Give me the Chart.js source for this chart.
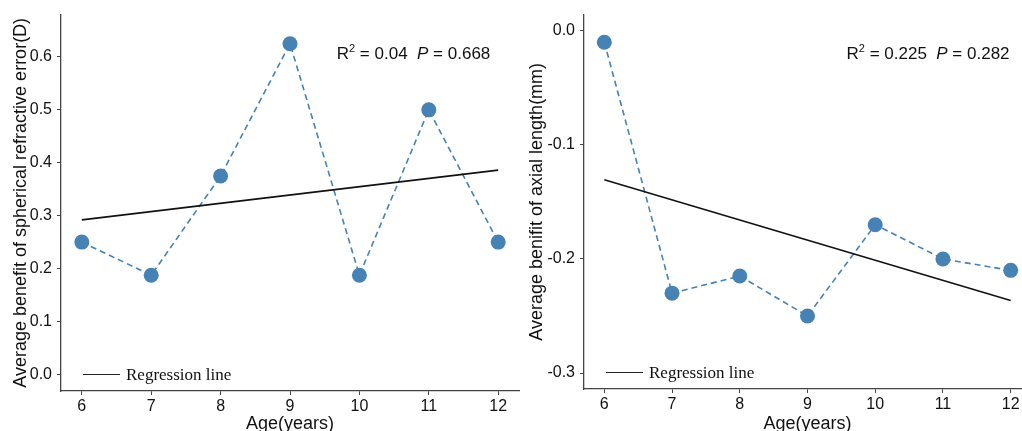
<!DOCTYPE html>
<html>
<head>
<meta charset="utf-8">
<script src="https://cdn.jsdelivr.net/npm/chart.js@4"></script>
<style>
body{margin:0;background:#fff;overflow:hidden;width:1022px;height:431px;position:relative}
canvas{position:absolute;top:0}
#left{left:0}
#right{left:516px}
</style>
</head>
<body>
<canvas id="left" width="540" height="435"></canvas>
<canvas id="right" width="536" height="435"></canvas>
<script>
let ages=[6,7,8,9,10,11,12]
let sphericalBenefit=[0.25,0.1875,0.375,0.625,0.1875,0.5,0.25]
let axialBenefit=[-0.01,-0.23,-0.215,-0.25,-0.17,-0.2,-0.21]
let fitAges=[6,12]
let sphericalFit=[0.292,0.386]
let axialFit=[-0.1305,-0.2365]
let xTicks=[6,7,8,9,10,11,12]
let sphericalTicks=[0,0.1,0.2,0.3,0.4,0.5,0.6]
let axialTicks=[0,-0.1,-0.2,-0.3]

let blue="#4682b4"
let axisColor="#444"

// draws the R2/P note and the inside legend
let notesPlugin={
id:"panelNotes",
afterDatasetsDraw(chart,args,opts){
let ctx=chart.ctx
let area=chart.chartArea
let x=chart.scales.x

ctx.save()
ctx.fillStyle="#111"
ctx.textBaseline="alphabetic"
let parts=[
["R",'17px "Liberation Sans"',0],
["2",'11px "Liberation Sans"',-7],
[" = "+opts.r2+"  ",'17px "Liberation Sans"',0],
["P",'italic 17px "Liberation Sans"',0],
[" = "+opts.p,'17px "Liberation Sans"',0]
]
let total=0
parts.forEach(p=>{ctx.font=p[1];total+=ctx.measureText(p[0]).width})
let px=x.getPixelForValue(opts.noteX)-total/2
let py=area.top+44
parts.forEach(p=>{
ctx.font=p[1]
ctx.fillText(p[0],px,py+p[2])
px+=ctx.measureText(p[0]).width
})

let ly=area.bottom-16.5
ctx.strokeStyle="#222"
ctx.lineWidth=1.2
ctx.beginPath()
ctx.moveTo(area.left+22,ly)
ctx.lineTo(area.left+59,ly)
ctx.stroke()
ctx.font='17px "Liberation Serif"'
ctx.textBaseline="middle"
ctx.fillText("Regression line",area.left+65,ly+1)
ctx.restore()
}
}

function makePanel(id,values,fit,yTicks,yMin,yMax,yTitle,r2,p,yWidth,xHeight){

let points=ages.map((a,i)=>({x:a,y:values[i]}))
let line=fitAges.map((a,i)=>({x:a,y:fit[i]}))

new Chart(document.getElementById(id),{
type:"line",
data:{
datasets:[
{
data:line,
borderColor:"#111",
borderWidth:1.6,
pointRadius:0
},
{
data:points,
borderColor:blue,
borderWidth:1.6,
borderDash:[6,4],
pointRadius:7.5,
pointBorderWidth:0,
pointBackgroundColor:blue
}
]
},
plugins:[notesPlugin],
options:{
responsive:false,
devicePixelRatio:1,
animation:false,
layout:{padding:{left:10,top:13,right:21,bottom:0}},
plugins:{
legend:{display:false},
tooltip:{enabled:false},
panelNotes:{r2:r2,p:p,noteX:10.78}
},
scales:{
x:{
type:"linear",
min:5.7,
max:12.3,
afterBuildTicks:s=>{s.ticks=xTicks.map(v=>({value:v}))},
afterFit:s=>{s.height=xHeight},
border:{display:true,color:axisColor,width:1.3},
grid:{display:true,drawOnChartArea:false,drawTicks:true,tickLength:4,color:axisColor},
ticks:{color:"#111",padding:2,maxRotation:0,font:{family:"Liberation Sans",size:16}},
title:{display:true,text:"Age(years)",color:"#111",padding:{top:0,bottom:0},font:{family:"Liberation Sans",size:18}}
},
y:{
min:yMin,
max:yMax,
afterBuildTicks:s=>{s.ticks=yTicks.map(v=>({value:v}))},
afterFit:s=>{s.width=yWidth},
border:{display:true,color:axisColor,width:1.3},
grid:{display:true,drawOnChartArea:false,drawTicks:true,tickLength:4,color:axisColor},
ticks:{color:"#111",padding:5,callback:v=>v.toFixed(1),font:{family:"Liberation Sans",size:16}},
title:{display:true,text:yTitle,color:"#111",padding:{top:0,bottom:0},font:{family:"Liberation Sans",size:18}}
}
}
}
})
}

makePanel("left",sphericalBenefit,sphericalFit,sphericalTicks,-0.0314,0.680,"Average benefit of spherical refractive error(D)","0.04","0.668",51,44)
makePanel("right",axialBenefit,axialFit,axialTicks,-0.314,0.0142,"Average benifit of axial length(mm)","0.225","0.282",58,46)
</script>
</body>
</html>
